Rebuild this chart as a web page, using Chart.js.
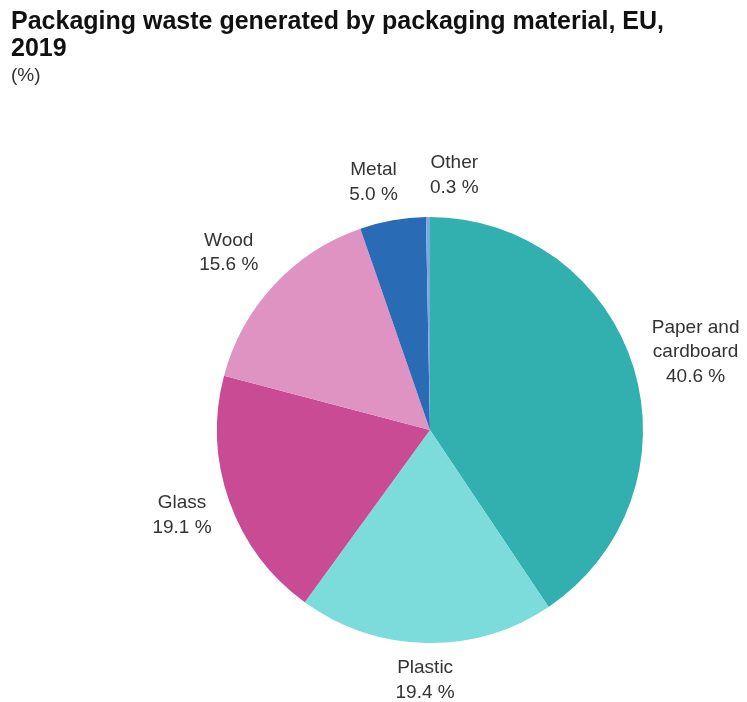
<!DOCTYPE html>
<html>
<head>
<meta charset="utf-8">
<script src="https://cdn.jsdelivr.net/npm/chart.js@4"></script>
<style>
  body { margin: 0; background: #fff; font-family: "Liberation Sans", Arial, sans-serif; }
  #wrap { position: relative; width: 747px; height: 702px; }
  #title { position: absolute; left: 11px; top: 7px; font-size: 25px; font-weight: bold; color: #111; line-height: 27px; white-space: nowrap; }
  #unit { position: absolute; left: 11px; top: 65px; font-size: 19px; color: #333; line-height: 19px; }
  canvas { position: absolute; left: 0; top: 0; }
</style>
</head>
<body>
<div id="wrap">
  <canvas id="pie" width="747" height="702"></canvas>
  <div id="title">Packaging waste generated by packaging material, EU,<br>2019</div>
  <div id="unit">(%)</div>
</div>
<script>
// packaging material shares, clockwise from 12 o'clock
const materials = ['Paper and cardboard', 'Plastic', 'Glass', 'Wood', 'Metal', 'Other'];
const labelLines = [['Paper and', 'cardboard'], ['Plastic'], ['Glass'], ['Wood'], ['Metal'], ['Other']];
const shares = [40.6, 19.4, 19.1, 15.6, 5.0, 0.3];
const sliceColors = ['#32b0b0', '#7bdcdb', '#c84b93', '#df93c2', '#2a6bb5', '#7aa8e0'];

// draws the name + value labels just outside each slice
const outsideLabels = {
  id: 'outsideLabels',
  afterDatasetsDraw(chart) {
    const ctx = chart.ctx;
    const arcs = chart.getDatasetMeta(0).data;
    const lineH = 24.5;
    ctx.save();
    ctx.font = '19px "Liberation Sans", Arial, sans-serif';
    ctx.fillStyle = '#333';
    ctx.textBaseline = 'middle';
    ctx.textAlign = 'center';
    arcs.forEach((arc, i) => {
      const lines = labelLines[i].concat(shares[i].toFixed(1) + ' %');
      const mid = (arc.startAngle + arc.endAngle) / 2;
      const dx = Math.cos(mid), dy = Math.sin(mid);
      const w = Math.max(...lines.map(l => ctx.measureText(l).width));
      const h = lines.length * lineH - 6;
      // a bit more room on the sides than above/below
      const r = arc.outerRadius + 16 + 5 * Math.abs(dx);
      let cx = arc.x + dx * r + dx * w / 2;
      let cy = arc.y + dy * r + dy * h / 2;
      if (shares[i] < 1) {
        // very thin slice: push the label off to the right of the top
        cx = arc.x + w / 2;
        cy -= 4;
      } else if (materials[i] === 'Metal') {
        cx -= 12;
      } else if (materials[i] === 'Wood') {
        cx -= 9;
        cy -= 4;
      }
      lines.forEach((l, k) => {
        ctx.fillText(l, cx, cy - h / 2 + 9 + k * lineH);
      });
    });
    ctx.restore();
  }
};

new Chart(document.getElementById('pie'), {
  type: 'pie',
  data: {
    labels: materials,
    datasets: [{
      data: shares,
      backgroundColor: sliceColors,
      borderWidth: 0
    }]
  },
  options: {
    responsive: false,
    animation: false,
    layout: { padding: { left: 217, right: 104, top: 217, bottom: 59 } },
    plugins: {
      legend: { display: false },
      tooltip: { enabled: false }
    }
  },
  plugins: [outsideLabels]
});
</script>
</body>
</html>
